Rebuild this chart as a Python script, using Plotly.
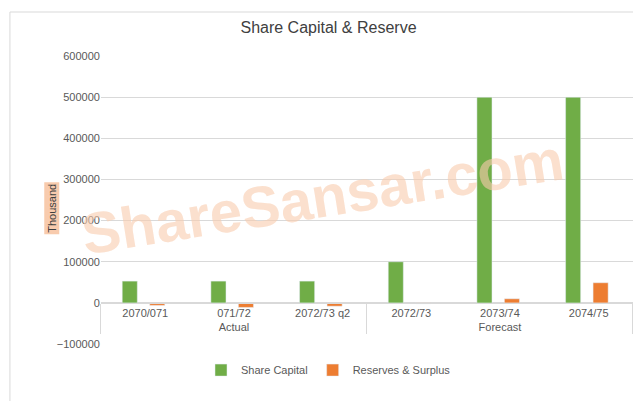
import plotly.graph_objects as go

groups = ["Actual", "Actual", "Actual", "Forecast", "Forecast", "Forecast"]
periods = ["2070/071", "071/72", "2072/73 q2", "2072/73", "2073/74", "2074/75"]
share_capital = [53000, 53000, 53000, 100000, 500000, 500000]
reserves = [-6000, -11000, -8000, -2000, 10000, 49000]

x = [groups, periods]
fig = go.Figure()
fig.add_bar(x=x, y=share_capital, name="Share Capital", marker_color="#70AD47", width=0.17, offset=-0.26)
fig.add_bar(x=x, y=reserves, name="Reserves & Surplus", marker_color="#ED7D31", width=0.17, offset=0.05)

y0, y1 = 0.162, 0.88
fig.update_layout(
    width=641, height=401, paper_bgcolor="white", plot_bgcolor="white",
    margin=dict(l=0, r=0, t=0, b=0, autoexpand=False),
    font=dict(family="Liberation Sans, Arial", size=11, color="#595959"),
    title=dict(text="Share Capital & Reserve", x=0.5, y=0.965, xanchor="center",
               font=dict(size=16, color="#404040")),
    showlegend=True,
    legend=dict(orientation="h", x=0.5, xanchor="center", y=0.097, yanchor="middle",
                font=dict(size=11, color="#595959")),
    yaxis=dict(domain=[y0, y1], range=[-100000, 600000], dtick=100000, tickformat="d",
               gridcolor="#D9D9D9", zeroline=False, showline=False,
               tickfont=dict(size=11, color="#595959")),
    xaxis=dict(anchor="free", position=y0 + (y1 - y0) / 7, domain=[0.145, 0.975],
               showdividers=True, dividercolor="#D9D9D9", showline=True, linecolor="#D9D9D9",
               tickfont=dict(size=11, color="#595959"), ticks=""),
    shapes=[dict(type="rect", xref="paper", yref="paper", x0=0.003, x1=0.997, y0=0.01, y1=0.99,
                 line=dict(color="#D9D9D9", width=1))],
    annotations=[
        dict(text="<b>ShareSansar.com</b>", xref="paper", yref="paper", x=0.49, y=0.53,
             showarrow=False, textangle=-9,
             font=dict(size=58, color="rgba(248,203,173,0.6)", family="Liberation Sans Narrow, Liberation Sans"),
             ),
        dict(text="Thousand", xref="paper", yref="paper", x=0.055, y=0.5, textangle=-90,
             showarrow=False, bgcolor="#F8CBAD", font=dict(size=11, color="#404040")),
    ],
)
fig.write_html("out.html")
